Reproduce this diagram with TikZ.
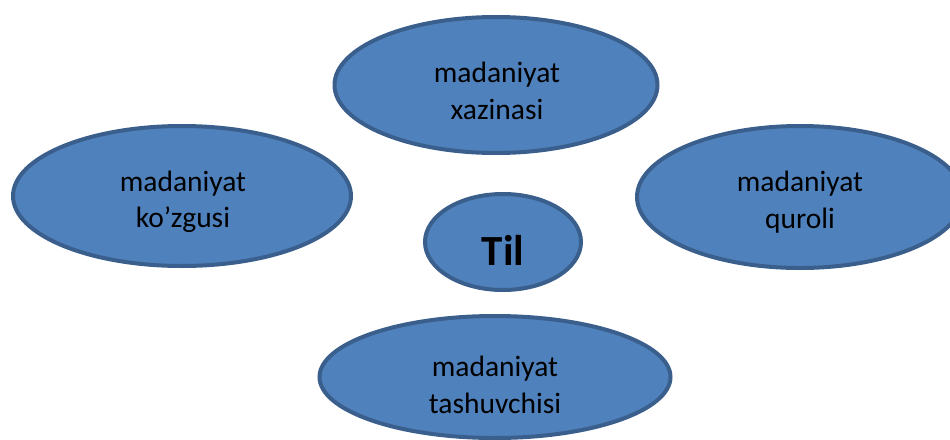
\documentclass[tikz,border=0pt]{standalone}
\usepackage{fontspec}
\setmainfont{Carlito}
\usetikzlibrary{shapes.geometric}
\definecolor{bubblefill}{HTML}{4F81BD}
\definecolor{bubbleline}{HTML}{3A5F8C}
\tikzset{
  bubble/.style={ellipse, draw=bubbleline, fill=bubblefill, line width=4pt, inner sep=0pt},
  bubbletext/.style={inner sep=0pt, align=center, text=black,
    font=\fontsize{29.5}{36.5}\selectfont},
}
\begin{document}
\begin{tikzpicture}[x=1pt,y=-1pt]
  \useasboundingbox (0,0) rectangle (950,439);
  \begin{scope}
    \clip (0,0) rectangle (950,439);
    % outer ring of bubbles
    \node[bubble, minimum width=323pt, minimum height=136pt] (xazina) at (496,85) {};
    \node[bubble, minimum width=338pt, minimum height=140pt] (kozgu) at (182,196) {};
    \node[bubble, minimum width=326pt, minimum height=142pt] (qurol) at (800,197) {};
    \node[bubble, minimum width=351pt, minimum height=122pt] (tashuvchi) at (495,377) {};
    % central bubble
    \node[bubble, minimum width=156pt, minimum height=96pt] (til) at (503,242) {};
    % labels
    \node[bubbletext] (xazina-t) at (497,91) {madaniyat\\xazinasi};
    \node[bubbletext] (kozgu-t) at (183,202) {madaniyat\\ko’zgusi};
    \node[bubbletext] (qurol-t) at (800,202) {madaniyat\\quroli};
    \node[bubbletext] (tashuvchi-t) at (495,385) {madaniyat\\tashuvchisi};
    \node[bubbletext, font=\fontsize{43}{50}\selectfont\bfseries] (til-t) at (503,250) {Til};
  \end{scope}
\end{tikzpicture}
\end{document}
